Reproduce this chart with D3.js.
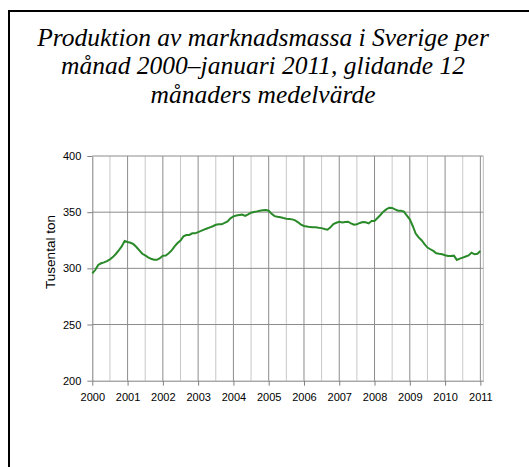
<!DOCTYPE html>
<html>
<head>
<meta charset="utf-8">
<script src="https://cdn.jsdelivr.net/npm/d3@7"></script>
<style>
  body { margin: 0; background: #fff; }
  svg { display: block; }
</style>
</head>
<body>
<svg width="529" height="467"></svg>
<script>
var svg = d3.select('svg');

// title lines
var titleLines = ["Produktion av marknadsmassa i Sverige per",
                  "månad 2000–januari 2011, glidande 12",
                  "månaders medelvärde"];

// x axis: year labels, one every 12 months starting at month 0
var yearLabels = ["2000","2001","2002","2003","2004","2005","2006","2007","2008","2009","2010","2011"];
var yTicks = [200, 250, 300, 350, 400];

// 12 month moving average, thousand tons, Jan 2000 .. Jan 2011
var y2000 = [295.5, 298.5, 303, 304.5, 305.3, 306.5, 308, 310, 312.8, 316, 319.5, 324.3];
var y2001 = [323.5, 322.8, 321.5, 319, 316, 313, 311.5, 309.8, 308.5, 307.6, 307.6, 309];
var y2002 = [311.3, 311.5, 313.5, 316, 319.5, 322.5, 324.8, 328.5, 329.7, 329.7, 331.2, 331.2];
var y2003 = [332.3, 333.3, 334.5, 335.5, 336.5, 337.5, 338.8, 339.2, 339.2, 340.4, 341.8, 344.5];
var y2004 = [346.3, 347, 347.5, 347.8, 346.6, 348, 349.5, 350.2, 350.7, 351.3, 351.7, 351.9];
var y2005 = [351.3, 348.5, 346.5, 345.9, 345.5, 344.8, 344.2, 343.9, 343.6, 342.7, 341, 339];
var y2006 = [337.7, 337.2, 336.7, 336.6, 336.5, 336.1, 335.8, 335, 334.4, 336.5, 339.5, 340.6];
var y2007 = [341.5, 340.8, 341.2, 341.5, 340.1, 338.8, 339.2, 340.4, 341.2, 341, 340, 342.1];
var y2008 = [342.1, 344.8, 347.5, 350.5, 352.5, 354, 353.8, 352.5, 351.3, 351.2, 350.5, 347];
var y2009 = [343.6, 337.7, 331, 327.5, 325, 321.5, 318.5, 317, 315.5, 313.4, 312.9, 312.5];
var y2010 = [311.6, 311, 311, 311.3, 307.5, 308.6, 309.6, 310.6, 311.5, 314, 312.5, 313];
var y2011 = [315.5];

var monthly = [].concat(y2000, y2001, y2002, y2003, y2004, y2005, y2006, y2007, y2008, y2009, y2010, y2011);

// frame (only top and left edge are inside the picture)
svg.append('path')
    .attr('d', 'M9,467V11H529')
    .attr('fill', 'none')
    .attr('stroke', '#000')
    .attr('stroke-width', 2);

// title
svg.append('g').selectAll('text')
    .data(titleLines)
    .enter()
    .append('text')
    .attr('x', 263)
    .attr('y', function(d, i){ return 46 + i * 28.4; })
    .attr('text-anchor', 'middle')
    .style('font-family', '"Liberation Serif", "Times New Roman", serif')
    .style('font-style', 'italic')
    .style('font-size', '25.5px')
    .text(function(d){ return d; });

// scales  (plot box edges)
var plotL = 92.3, plotR = 483.3, plotT = 156, plotB = 380.7;
var ScaleX = d3.scaleLinear().domain([0, monthly.length]).range([plotL, plotR]);
var ScaleY = d3.scaleLinear().domain([200, 400]).range([plotB, plotT]);

var halfYears = d3.range(6, monthly.length, 12);
var years = d3.range(0, monthly.length, 12);

// light vertical grid at mid-year
svg.append('g').selectAll('line')
    .data(halfYears)
    .enter()
    .append('line')
    .attr('x1', function(d){ return ScaleX(d); })
    .attr('x2', function(d){ return ScaleX(d); })
    .attr('y1', plotT)
    .attr('y2', plotB)
    .attr('stroke', '#c8c8c8')
    .attr('stroke-width', 1);

// darker vertical grid at each year
svg.append('g').selectAll('line')
    .data(years.slice(1))
    .enter()
    .append('line')
    .attr('x1', function(d){ return ScaleX(d); })
    .attr('x2', function(d){ return ScaleX(d); })
    .attr('y1', plotT)
    .attr('y2', plotB)
    .attr('stroke', '#8c8c8c')
    .attr('stroke-width', 1);

// horizontal grid
svg.append('g').selectAll('line')
    .data(yTicks.slice(1))
    .enter()
    .append('line')
    .attr('x1', plotL)
    .attr('x2', plotR)
    .attr('y1', function(d){ return ScaleY(d); })
    .attr('y2', function(d){ return ScaleY(d); })
    .attr('stroke', '#8c8c8c')
    .attr('stroke-width', 1);

// right edge of plot area
svg.append('line')
    .attr('x1', plotR).attr('x2', plotR)
    .attr('y1', plotT).attr('y2', plotB)
    .attr('stroke', '#bcbcbc');

// axes
var yAxis = svg.append('g')
    .attr('transform', 'translate(' + plotL + ',0)')
    .call(d3.axisLeft(ScaleY).tickValues(yTicks).tickSize(5).tickPadding(6).tickSizeOuter(0));
var xAxis = svg.append('g')
    .attr('transform', 'translate(0,' + plotB + ')')
    .call(d3.axisBottom(ScaleX).tickValues(years).tickSize(5).tickPadding(8).tickSizeOuter(0)
        .tickFormat(function(d, i){ return yearLabels[i]; }));

[xAxis, yAxis].forEach(function(ax){
    ax.select('.domain').attr('stroke', '#808080');
    ax.selectAll('.tick line').attr('stroke', '#808080');
    ax.selectAll('text')
        .style('font-family', '"Liberation Sans", Arial, sans-serif')
        .style('font-size', '11px')
        .attr('fill', '#000');
});

svg.append('text')
    .text('Tusental ton')
    .attr('transform', 'translate(55,252)rotate(-90)')
    .attr('text-anchor', 'middle')
    .style('font-family', '"Liberation Sans", Arial, sans-serif')
    .style('font-size', '13.5px');

// data line
var line = d3.line()
    .x(function(d, i){ return ScaleX(i); })
    .y(function(d){ return ScaleY(d); });

svg.append('path')
    .datum(monthly)
    .attr('d', line)
    .attr('fill', 'none')
    .attr('stroke', '#2a8a2a')
    .attr('stroke-width', 2);
</script>
</body>
</html>
